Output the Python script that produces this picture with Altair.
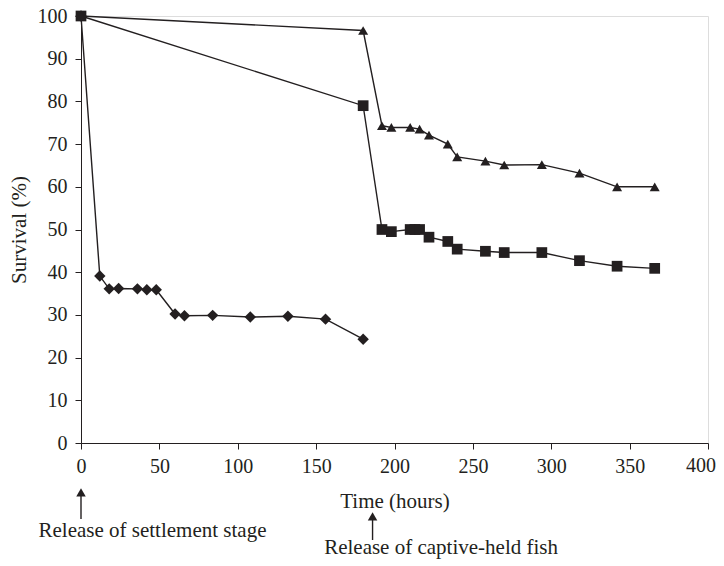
import altair as alt
import pandas as pd

# Settlement-stage fish (diamonds)
settle_x = [0, 12, 18, 24, 36, 42, 48, 60, 66, 84, 108, 132, 156, 180]
settle_y = [100, 39.1, 36.1, 36.2, 36.1, 35.9, 35.9, 30.2, 29.8, 29.9, 29.5, 29.7, 29.0, 24.3]

# Captive-held fish, group A (squares)
sq_x = [0, 180, 192, 198, 210, 213, 216, 222, 234, 240, 258, 270, 294, 318, 342, 366]
sq_y = [100, 79.0, 50.0, 49.5, 50.0, 50.0, 50.0, 48.2, 47.2, 45.4, 44.9, 44.6, 44.6, 42.7, 41.4, 40.9]

# Captive-held fish, group B (triangles)
tri_x = [0, 180, 192, 198, 210, 216, 222, 234, 240, 258, 270, 294, 318, 342, 366]
tri_y = [100, 96.6, 74.3, 73.9, 73.9, 73.5, 72.1, 70.0, 67.0, 66.0, 65.1, 65.2, 63.2, 60.0, 60.0]

series_names = ["settlement", "captive A", "captive B"]
shapes = ["diamond", "square", "triangle-up"]
marker_sizes = [130, 100, 115]

x_ticks = [0, 50, 100, 150, 200, 250, 300, 350, 400]
y_ticks = [0, 10, 20, 30, 40, 50, 60, 70, 80, 90, 100]
last_x_tick = [400]

# annotation arrows / labels (x in hours)
arrow_x = [0, 186]
label_x = [45.6, 229.7]
labels = ["Release of settlement stage", "Release of captive-held fish"]

rows = []
for name, xs, ys in zip(series_names, [settle_x, sq_x, tri_x], [settle_y, sq_y, tri_y]):
    for xv, yv in zip(xs, ys):
        rows.append({"series": name, "time": xv, "survival": yv})
df = pd.DataFrame(rows)

INK = "#231f20"
FONT = "Liberation Serif"
W, H = 627, 427

x_scale = alt.Scale(domain=[0, 400], nice=False, zero=False)
y_scale = alt.Scale(domain=[0, 100], nice=False)

x_enc = alt.X("time:Q", scale=x_scale,
              axis=alt.Axis(title="Time (hours)", values=x_ticks, grid=False,
                            labelExpr="datum.value == 400 ? '' : datum.label",
                            labelFont=FONT, labelFontSize=20, labelColor=INK,
                            titleFont=FONT, titleFontSize=21, titleFontWeight="normal",
                            titleColor=INK, domainColor=INK, tickColor=INK,
                            tickSize=6, labelPadding=7, titlePadding=14,
                            labelFlush=False))
y_enc = alt.Y("survival:Q", scale=y_scale,
              axis=alt.Axis(title="Survival (%)", values=y_ticks, grid=False,
                            labelFont=FONT, labelFontSize=20, labelColor=INK,
                            titleFont=FONT, titleFontSize=21, titleFontWeight="normal",
                            titleColor=INK, domainColor=INK, tickColor=INK,
                            tickSize=6, labelPadding=8, titlePadding=8,
                            labelFlush=False))

base = alt.Chart(df)

lines = base.mark_line(color=INK, strokeWidth=1.4).encode(
    x=x_enc, y=y_enc, detail="series:N"
)

points = base.mark_point(filled=True, color=INK, opacity=1).encode(
    x=alt.X("time:Q", scale=x_scale),
    y=alt.Y("survival:Q", scale=y_scale),
    shape=alt.Shape("series:N", scale=alt.Scale(domain=series_names, range=shapes), legend=None),
    size=alt.Size("series:N", scale=alt.Scale(domain=series_names, range=marker_sizes), legend=None),
)

# last tick label drawn so it stays inside the page edge
last_lbl = alt.Chart(pd.DataFrame({"t": last_x_tick})).mark_text(
    font=FONT, fontSize=20, color=INK, align="right", baseline="top", dx=8
).encode(
    x=alt.X("t:Q", scale=x_scale),
    y=alt.value(H + 6 + 7),
    text=alt.Text("t:Q"),
)

ann_df = pd.DataFrame({
    "ax": arrow_x,
    "lx": label_x,
    "label": labels,
    "tip": [476.3, 500.3],
    "top": [476, 500],
    "bottom": [503, 524],
    "ty": [515, 532],
})
ann = alt.Chart(ann_df)

shafts = ann.mark_rule(color=INK, strokeWidth=1.4).encode(
    x=alt.X("ax:Q", scale=x_scale),
    y=alt.Y("top:Q", scale=None),
    y2="bottom:Q",
)
heads = ann.mark_point(shape="triangle-up", filled=True, color=INK, opacity=1, size=90).encode(
    x=alt.X("ax:Q", scale=x_scale),
    y=alt.Y("tip:Q", scale=None),
)
texts = ann.mark_text(font=FONT, fontSize=21, color=INK, align="center", baseline="middle").encode(
    x=alt.X("lx:Q", scale=x_scale),
    y=alt.Y("ty:Q", scale=None),
    text="label:N",
)

chart = alt.layer(lines, points, last_lbl, shafts, heads, texts).properties(
    width=W, height=H,
    autosize=alt.AutoSizeParams(type="none"),
    padding={"left": 73, "top": 8, "right": 8, "bottom": 118},
).configure_view(stroke=None).configure(background="white")

chart.save("out.html", embed_options={"renderer": "svg", "actions": False})
